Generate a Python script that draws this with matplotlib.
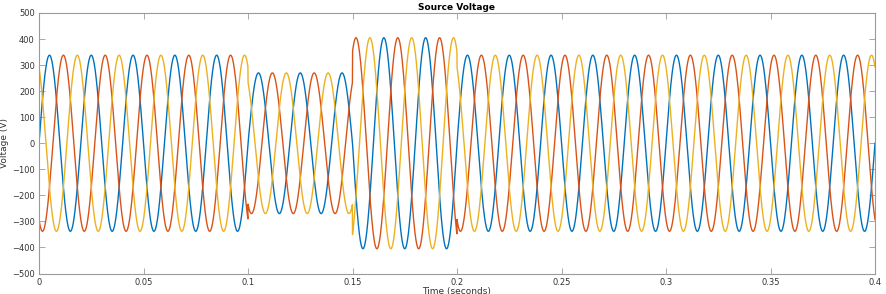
import numpy as np
import matplotlib
matplotlib.use('Agg')
import matplotlib.pyplot as plt

# waveform parameters
freq = 50.0                      # Hz
phase_deg = [0, -120, 120]       # phase A, B, C
colors = ['#0072BD', '#D95319', '#EDB120']
seg_start = [0.0, 0.10, 0.15, 0.20]
seg_end = [0.10, 0.15, 0.20, 0.40]
seg_amp = [338, 270, 405, 338]   # peak voltage in each interval (sag / swell)

yticks = [-500, -400, -300, -200, -100, 0, 100, 200, 300, 400, 500]
xticks = [0, 0.05, 0.1, 0.15, 0.2, 0.25, 0.3, 0.35, 0.4]
xticklabels = ['0', '0.05', '0.1', '0.15', '0.2', '0.25', '0.3', '0.35', '0.4']

t = np.linspace(0, 0.4, 8001)
amp = np.zeros_like(t)
for s, e, a in zip(seg_start, seg_end, seg_amp):
    amp[(t >= s) & (t <= e)] = a

fig = plt.figure(figsize=(8.86, 2.94), dpi=100)
ax = fig.add_axes([39 / 886, 1 - 273.5 / 294, (875 - 39) / 886, (273.5 - 13) / 294])

for ph, c in zip(phase_deg, colors):
    v = amp * np.sin(2 * np.pi * freq * t + np.deg2rad(ph))
    ax.plot(t, v, color=c, linewidth=1.0)

ax.set_xlim(0, 0.4)
ax.set_ylim(-500, 500)
ax.set_xticks(xticks)
ax.set_xticklabels(xticklabels)
ax.set_yticks(yticks)

axis_col = '#9a9a9a'
for sp in ax.spines.values():
    sp.set_color(axis_col)
    sp.set_linewidth(0.8)
ax.tick_params(direction='in', length=4, width=0.6, colors=axis_col,
               labelcolor='#333333', labelsize=6, top=True, right=True, pad=3)

ax.set_title('Source Voltage', fontsize=6.5, fontweight='bold', pad=2)
ax.set_xlabel('Time (seconds)', fontsize=6.5, labelpad=0, color='#333333')
ax.set_ylabel('Voltage (V)', fontsize=6.5, labelpad=2, color='#333333')

fig.savefig('out.png', dpi=100)
